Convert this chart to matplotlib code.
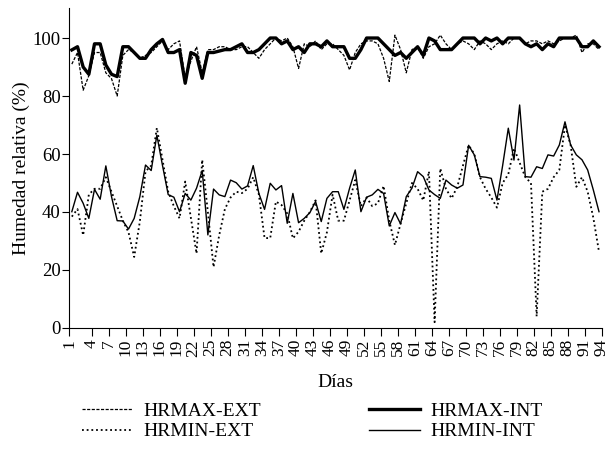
import numpy as np
import matplotlib
matplotlib.use("Agg")
import matplotlib.pyplot as plt

# daily relative humidity (%), days 1..94
dias = np.arange(1, 95)

hrmax_ext = [91, 95, 82, 87, 95, 95, 88, 86, 80, 94,
             96, 95, 93, 94, 95, 97, 99, 96, 98, 99,
             86, 92, 97, 88, 96, 96, 97, 97, 96, 96,
             97, 97, 95, 93, 96, 98, 100, 99, 100, 97,
             89.5, 98, 97, 99, 96, 98, 98, 96, 94, 89,
             95, 98, 99, 99, 98, 93, 85, 101, 96, 88,
             96, 97, 93, 97, 98, 101, 98, 96, 98, 99,
             98, 96, 99, 98, 96, 98, 99, 98, 100, 100,
             98, 99, 99, 98, 99, 98, 99, 100, 100, 101,
             95, 98, 98, 96]

hrmin_ext = [38.4, 41, 32, 46, 48, 48, 52, 47, 42, 37,
             33, 24.5, 36.7, 54, 56, 69, 58, 47, 42, 37.8,
             50.5, 38, 25.7, 58, 40, 21, 32, 41, 45, 47,
             46.5, 48, 52, 46, 31, 31, 43.6, 42.4, 39.5, 30.9,
             33.2, 37, 40, 44, 25.7, 33, 46, 37, 37, 44,
             51, 42, 45, 42, 43, 49, 37, 28.6, 36, 43,
             50, 48, 44, 54, 2, 55, 48, 44.7, 48.7, 56,
             63, 60, 52, 48, 45, 41.5, 50, 53, 62, 57,
             52, 50, 4, 47, 48, 52, 54.5, 70, 63, 48.7,
             52, 47, 38, 26.3]

hrmax_int = [95.9, 97, 90, 87.5, 98, 98, 90.7, 87.5, 86.7, 97,
             97, 95, 93, 93, 96, 98, 99.5, 95, 95, 96,
             84.4, 95, 94, 86.1, 95, 95, 95.5, 96, 96, 97,
             98, 95, 95, 96, 98, 100, 100, 98, 99, 96,
             97, 95, 98, 98, 97, 99, 97, 97, 97, 93,
             93, 96, 100, 100, 100, 98, 96, 94, 95, 93,
             95, 97, 94, 100, 99, 96, 96, 96, 98, 100,
             100, 100, 98, 100, 99, 100, 98, 100, 100, 100,
             98, 97, 98, 96, 98, 97, 100, 100, 100, 100,
             97, 97, 99, 97]

hrmin_int = [40.1, 46.8, 43.0, 37.8, 47.8, 44.4, 55.9, 45.3, 37.0, 36.9,
             34.1, 37.8, 45.3, 56.2, 54.3, 66.5, 56, 46, 45.1, 40.1,
             46.4, 44.1, 48.2, 54.3, 32.1, 47.9, 45.9, 45.3, 51.0, 50.1,
             47.9, 49, 56, 46.4, 40.9, 49.9, 47.6, 49.1, 36.1, 46.4,
             36.3, 37.8, 39.8, 43.6, 36.7, 44.7, 47, 47, 40.9, 48.2,
             54.5, 40.1, 45.1, 45.9, 47.8, 46.4, 35.2, 39.8, 35.9, 45.3,
             48.2, 53.9, 52.2, 47.6, 46, 44.7, 51, 49.3, 48.2, 49.3,
             63, 59.7, 52.2, 52, 51.6, 44.1, 56, 68.9, 57.9, 76.9,
             52.2, 52, 55.6, 55, 59.7, 59.3, 63.1, 71.1, 63.1, 59.7,
             58, 54.5, 47.6, 40.1]

etiquetas = [str(d) for d in range(1, 95, 3)]

plt.rcParams['font.family'] = ['Liberation Serif', 'DejaVu Serif']

fig = plt.figure(figsize=(6.16, 4.53), dpi=100)
ax = fig.add_axes([0.112, 0.276, 0.865, 0.706])

ax.plot(dias, hrmax_ext, color='black', lw=0.9, ls=(0, (2.5, 1.2)), label='HRMAX-EXT')
ax.plot(dias, hrmin_ext, color='black', lw=1.3, ls=(0, (1, 1.6)), label='HRMIN-EXT')
ax.plot(dias, hrmax_int, color='black', lw=2.4, label='HRMAX-INT')
ax.plot(dias, hrmin_int, color='black', lw=1.0, label='HRMIN-INT')

ax.set_xlim(0.5, 94.5)
ax.set_ylim(0, 110.3)
ax.set_yticks(range(0, 101, 20))
# category-style ticks: first at the axis, then between days
tick_pos = [0.5] + [4.5 + 3 * k for k in range(31)]
ax.set_xticks(tick_pos)
ax.set_xticklabels(etiquetas, rotation=90, fontsize=12.5)
ax.tick_params(axis='y', labelsize=13.5, direction='out', length=5, width=0.8, pad=1)
ax.tick_params(axis='x', direction='out', length=6, width=0.8, pad=2)

for s in ['top', 'right']:
    ax.spines[s].set_visible(False)
for s in ['left', 'bottom']:
    ax.spines[s].set_linewidth(0.8)

ax.set_ylabel('Humedad relativa (%)', fontsize=14, labelpad=2)
fig.text(0.545, 0.155, 'Días', fontsize=14, ha='center', va='center')

fig.legend(loc='center', bbox_to_anchor=(0.507, 0.07), ncol=2, frameon=False,
           fontsize=14, handlelength=2.6, handletextpad=0.55, columnspacing=5.6,
           labelspacing=0.15)

fig.savefig('out.png', dpi=100)
